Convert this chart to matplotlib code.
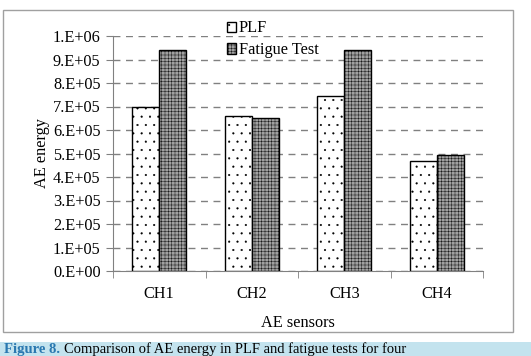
import matplotlib
matplotlib.use("Agg")
import matplotlib.pyplot as plt
from matplotlib.patches import Rectangle
import numpy as np

plt.rcParams['font.family'] = ['Liberation Serif', 'DejaVu Serif']
plt.rcParams['hatch.linewidth'] = 0.3

categories = ["CH1", "CH2", "CH3", "CH4"]
plf = [7.0e5, 6.6e5, 7.45e5, 4.7e5]
fatigue = [9.4e5, 6.5e5, 9.4e5, 4.95e5]
yticks = np.arange(0, 1.0e6 + 1, 1e5)
ytick_labels = ["0.E+00", "1.E+05", "2.E+05", "3.E+05", "4.E+05", "5.E+05",
                "6.E+05", "7.E+05", "8.E+05", "9.E+05", "1.E+06"]

W, H = 531, 356
FS = 11.7
fig = plt.figure(figsize=(W / 100, H / 100), dpi=100)

# outer frame
fig.patches.append(Rectangle((3 / W, 1 - 332 / H), 510 / W, 322 / H,
                             transform=fig.transFigure, fill=False,
                             edgecolor='#a0a0a0', linewidth=1.0))
# caption bar
fig.patches.append(Rectangle((0, 0), 1, 14 / H, transform=fig.transFigure,
                             facecolor='#c3e3ee', edgecolor='none'))

ax = fig.add_axes([113 / W, 1 - 271 / H, 370 / W, 235 / H])
x = np.arange(len(categories))
bw = 0.29
ax.bar(x - bw / 2, plf, bw, facecolor='white', edgecolor='black',
       hatch='..', linewidth=1.0, label='PLF', zorder=3)
ax.bar(x + bw / 2, fatigue, bw, facecolor='#a0a0a0', edgecolor='black',
       hatch='+++++', linewidth=1.0, label='Fatigue Test', zorder=3)

ax.set_xlim(-0.5, len(categories) - 0.5)
ax.set_ylim(0, 1.0e6)
ax.set_yticks(yticks)
ax.set_yticklabels(ytick_labels, fontsize=FS)
ax.set_xticks(x)
ax.set_xticklabels(categories, fontsize=FS)
ax.set_xticks(np.arange(-0.5, len(categories)), minor=True)
ax.tick_params(axis='x', which='major', length=0, pad=11)
ax.tick_params(axis='x', which='minor', length=5, color='#808080')
ax.tick_params(axis='y', length=5, color='#808080', pad=4)
ax.yaxis.grid(True, linestyle=(0, (5, 4)), color='#808080', linewidth=1.0, zorder=0)
ax.set_axisbelow(True)
for s in ['top', 'right']:
    ax.spines[s].set_visible(False)
for s in ['left', 'bottom']:
    ax.spines[s].set_color('#808080')
ax.set_xlabel("AE sensors", fontsize=FS, labelpad=9)
ax.set_ylabel("AE energy", fontsize=FS, labelpad=2)

ax.legend(loc='upper left', bbox_to_anchor=(220 / W, 1 - 14 / H),
          bbox_transform=fig.transFigure, frameon=False, fontsize=FS,
          handlelength=0.6, handleheight=0.6, handletextpad=0.15,
          labelspacing=0.35, borderaxespad=0)

t1 = fig.text(4 / W, 3.5 / H, "Figure 8.", color='#2a78b0', fontsize=10.5,
              fontweight='bold', va='baseline', ha='left')
fig.canvas.draw()
bb = t1.get_window_extent()
fig.text((bb.x1 + 4) / W, 3.5 / H,
         "Comparison of AE energy in PLF and fatigue tests for four",
         color='black', fontsize=10.5, va='baseline', ha='left')

fig.savefig("out.png", dpi=100)
